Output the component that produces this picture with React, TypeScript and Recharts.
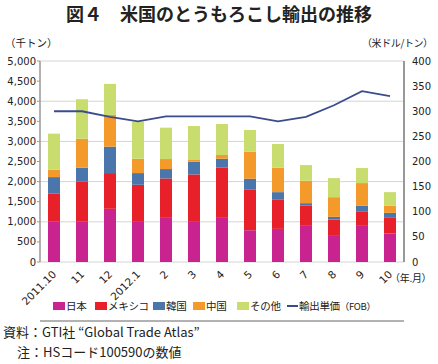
import React from 'react';
import { ComposedChart, Bar, Line, XAxis, YAxis, CartesianGrid } from 'recharts';

const months = ['2011.10', '11', '12', '2012.1', '2', '3', '4', '5', '6', '7', '8', '9', '10'];
const japan = [1015, 1015, 1323, 998, 1098, 998, 1098, 790, 824, 899, 649, 899, 707];
const mexico = [682, 981, 889, 923, 981, 1181, 1255, 1006, 723, 507, 408, 349, 391];
const korea = [415, 349, 657, 291, 233, 315, 216, 275, 191, 58, 66, 149, 125];
const china = [183, 723, 789, 357, 249, 59, 92, 673, 607, 557, 490, 566, 174];
const other = [898, 981, 773, 923, 781, 831, 773, 540, 590, 390, 474, 374, 341];
const price = [300, 300, 289, 280, 290, 290, 290, 290, 280, 289, 312, 340, 330];

const leftTicks = [0, 500, 1000, 1500, 2000, 2500, 3000, 3500, 4000, 4500, 5000];
const rightTicks = [0, 50, 100, 150, 200, 250, 300, 350, 400];
const boundaryTicks = [0, 1, 2, 3, 4, 5, 6, 7, 8, 9, 10, 11, 12, 13];

const seriesNames = ['日本', 'メキシコ', '韓国', '中国', 'その他'];
const seriesKeys = ['japan', 'mexico', 'korea', 'china', 'other'];
const seriesColors = ['#c8238f', '#e8202a', '#4a76ab', '#f39a2a', '#c8dd6e'];
const lineName = '輸出単価';
const lineColor = '#3b4c8c';

const data = months.map((m, i) => ({
  month: m,
  japan: japan[i],
  mexico: mexico[i],
  korea: korea[i],
  china: china[i],
  other: other[i],
  price: price[i],
}));

const numFont = "'DejaVu Sans', sans-serif";
const jpFont = "'Noto Sans CJK JP', sans-serif";

const fmt = (v: number) => String(v).replace(/\B(?=(\d{3})+(?!\d))/g, ',');

const MonthTick = (props: any) => {
  const { x, y, payload } = props;
  const ax = x + 3;
  const ay = y + 13;
  return (
    <text
      x={ax}
      y={ay}
      textAnchor="end"
      transform={`rotate(-45, ${ax}, ${ay})`}
      fontSize={10.5}
      fontFamily={numFont}
      fill="#222"
    >
      {payload.value}
    </text>
  );
};

const legendPos = [53, 95, 153, 193, 237];

export default function App() {
  const legText: React.CSSProperties = {
    fontFamily: jpFont, fontSize: 10.5, lineHeight: '12px', color: '#222', marginLeft: 1,
    letterSpacing: -0.3, whiteSpace: 'nowrap',
  };
  return (
    <div style={{ position: 'absolute', left: 0, top: 0, width: 438, height: 364, background: '#fff', overflow: 'hidden' }}>
      <div
        style={{
          position: 'absolute', left: 0, top: 4, width: 438, textAlign: 'center',
          fontFamily: jpFont, fontWeight: 700, fontSize: 18, lineHeight: '18px', color: '#222',
        }}
      >
        図４　米国のとうもろこし輸出の推移
      </div>
      <div style={{ position: 'absolute', left: 5, top: 37, fontFamily: jpFont, fontSize: 10.5, lineHeight: '11px', color: '#222', whiteSpace: 'nowrap' }}>
        （千トン）
      </div>
      <div style={{ position: 'absolute', left: 362, top: 37, fontFamily: jpFont, fontSize: 10, lineHeight: '11px', color: '#222', whiteSpace: 'nowrap', letterSpacing: -0.4 }}>
        （米ドル/トン）
      </div>
      <div style={{ position: 'absolute', left: 0, top: 0 }}>
        <ComposedChart width={438} height={364} data={data} margin={{ top: 61, right: 0, bottom: 42, left: 0 }}>
          <CartesianGrid vertical={false} stroke="#d4d4d4" yAxisId="left" xAxisId="cat" />
          <XAxis
            xAxisId="ticks"
            type="number"
            domain={[0, 13]}
            ticks={boundaryTicks}
            tick={false}
            tickSize={4}
            height={1}
            axisLine={{ stroke: '#999', strokeWidth: 1.5 }}
            tickLine={{ stroke: '#999' }}
            allowDataOverflow
          />
          <XAxis
            xAxisId="cat"
            dataKey="month"
            height={59}
            interval={0}
            tick={<MonthTick />}
            tickLine={false}
            axisLine={false}
            tickSize={0}
            tickMargin={0}
          />
          <YAxis
            yAxisId="left"
            domain={[0, 5000]}
            ticks={leftTicks}
            tickFormatter={fmt}
            width={40}
            tickSize={3}
            tickMargin={1}
            axisLine={{ stroke: '#999', strokeWidth: 1.5 }}
            tickLine={{ stroke: '#999' }}
            tick={{ fontSize: 10, fill: '#222', fontFamily: numFont }}
          />
          <YAxis
            yAxisId="right"
            orientation="right"
            domain={[0, 400]}
            ticks={rightTicks}
            width={34}
            tickSize={0}
            tickMargin={8}
            axisLine={{ stroke: '#999', strokeWidth: 2 }}
            tickLine={false}
            tick={{ fontSize: 10, fill: '#222', fontFamily: numFont, textAnchor: 'start' }}
          />
          {seriesKeys.map((k, i) => (
            <Bar
              key={k}
              dataKey={k}
              name={seriesNames[i]}
              stackId="a"
              xAxisId="cat"
              yAxisId="left"
              fill={seriesColors[i]}
              barSize={12}
              isAnimationActive={false}
            />
          ))}
          <Line
            dataKey="price"
            name={lineName}
            xAxisId="cat"
            yAxisId="right"
            stroke={lineColor}
            strokeWidth={1.8}
            dot={false}
            activeDot={false}
            isAnimationActive={false}
          />
        </ComposedChart>
      </div>
      <div style={{ position: 'absolute', left: 390, top: 272, fontFamily: jpFont, fontSize: 10, lineHeight: '11px', color: '#222', whiteSpace: 'nowrap', letterSpacing: -0.3 }}>
        （年.月）
      </div>
      {seriesNames.map((n, i) => (
        <div key={n} style={{ position: 'absolute', left: legendPos[i], top: 300, height: 12, display: 'flex', alignItems: 'center' }}>
          <span style={{ display: 'inline-block', width: 12, height: 8, background: seriesColors[i] }} />
          <span style={legText}>{n}</span>
        </div>
      ))}
      <div style={{ position: 'absolute', left: 287, top: 300, height: 12, display: 'flex', alignItems: 'center' }}>
        <span style={{ display: 'inline-block', width: 11, height: 2, background: lineColor }} />
        <span style={legText}>{lineName}</span>
        <span style={{ fontFamily: jpFont, fontSize: 9.5, lineHeight: '12px', color: '#222', whiteSpace: 'nowrap', letterSpacing: -0.3 }}>（FOB）</span>
      </div>
      <div style={{ position: 'absolute', left: 3, top: 325, fontFamily: jpFont, fontSize: 13, lineHeight: '14px', color: '#222', whiteSpace: 'nowrap' }}>
        資料：GTI社 “Global Trade Atlas”
      </div>
      <div style={{ position: 'absolute', left: 17, top: 345, fontFamily: jpFont, fontSize: 13, lineHeight: '14px', color: '#222', whiteSpace: 'nowrap' }}>
        注：HSコード100590の数値
      </div>
    </div>
  );
}
